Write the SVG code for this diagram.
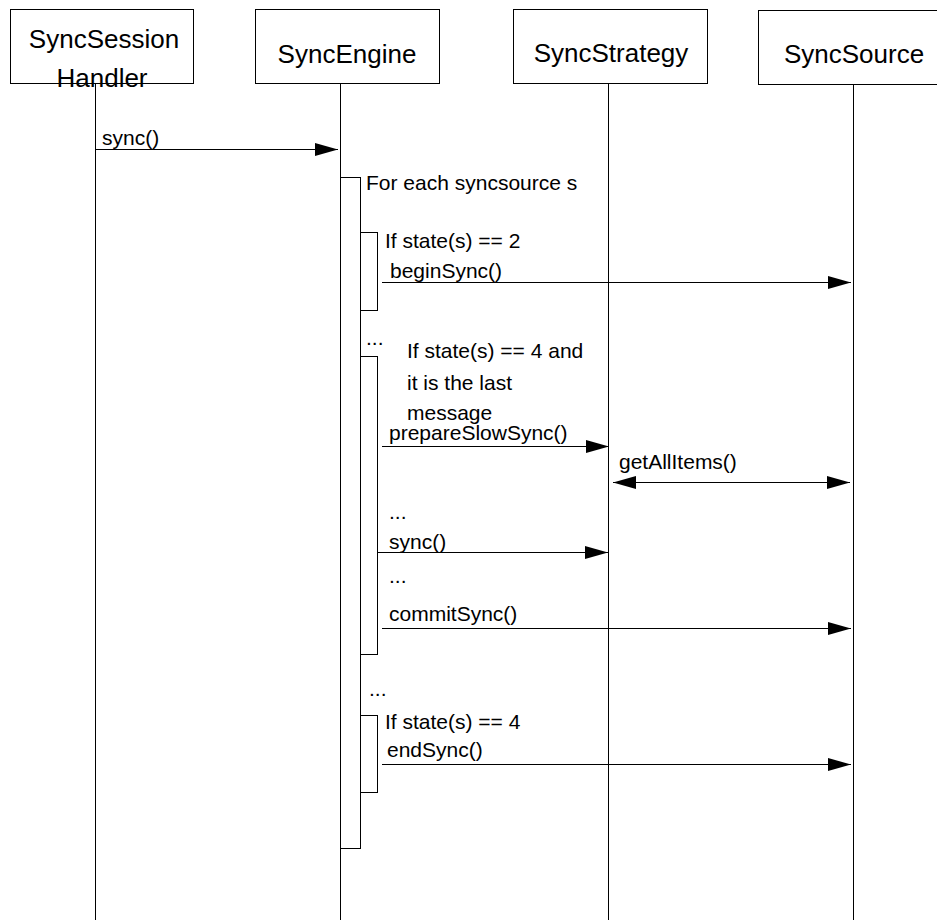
<svg xmlns="http://www.w3.org/2000/svg" width="937" height="920" viewBox="0 0 937 920">
<style>
.box{fill:#fff;stroke:#000;stroke-width:1}
.life{stroke:#000;stroke-width:1}
.act{fill:#fff;stroke:#000;stroke-width:1}
.msg{stroke:#000;stroke-width:1;fill:none}
.t{font-family:"Liberation Sans",Arial,sans-serif;font-size:26px;fill:#000}
.l{font-family:"Liberation Sans",Arial,sans-serif;font-size:21px;fill:#000}
</style>
<defs>
<marker id="ah" viewBox="0 0 23 13" refX="23" refY="6.5" markerWidth="23" markerHeight="13" markerUnits="userSpaceOnUse" orient="auto">
<path d="M0,0 L23,6.5 L0,13 Z" fill="#000"/>
</marker>
<marker id="ahs" viewBox="0 0 23 13" refX="0" refY="6.5" markerWidth="23" markerHeight="13" markerUnits="userSpaceOnUse" orient="auto">
<path d="M23,0 L0,6.5 L23,13 Z" fill="#000"/>
</marker>
</defs>
<rect width="937" height="920" fill="#fff"/>
<g id="lifelines">
<line class="life" x1="95.5" y1="83" x2="95.5" y2="920"/>
<line class="life" x1="340.5" y1="83" x2="340.5" y2="920"/>
<line class="life" x1="608.5" y1="83" x2="608.5" y2="920"/>
<line class="life" x1="853.5" y1="85" x2="853.5" y2="920"/>
</g>
<g id="SyncSessionHandler">
<rect class="box" x="10.5" y="9.5" width="183" height="74"/>
<text class="t" x="104" y="48" text-anchor="middle">SyncSession</text>
<text class="t" x="102" y="87" text-anchor="middle">Handler</text>
</g>
<g id="SyncEngine">
<rect class="box" x="255.5" y="9.5" width="184" height="74"/>
<text class="t" x="347" y="63" text-anchor="middle">SyncEngine</text>
</g>
<g id="SyncStrategy">
<rect class="box" x="513.5" y="9.5" width="194" height="74"/>
<text class="t" x="611" y="62" text-anchor="middle">SyncStrategy</text>
</g>
<g id="SyncSource">
<rect class="box" x="758.5" y="10.5" width="200" height="74"/>
<text class="t" x="854" y="63" text-anchor="middle">SyncSource</text>
</g>
<g id="activations">
<rect class="act" x="340.5" y="177.5" width="20" height="671"/>
<rect class="act" x="360.5" y="232.5" width="17" height="78"/>
<rect class="act" x="360.5" y="356.5" width="17" height="298"/>
<rect class="act" x="360.5" y="715.5" width="17" height="77"/>
</g>
<g id="notes">
<text class="l" x="366" y="190">For each syncsource s</text>
<text class="l" x="385" y="248">If state(s) == 2</text>
<text class="l" x="366" y="345">...</text>
<text class="l" x="407" y="358">If state(s) == 4 and</text>
<text class="l" x="407" y="390">it is the last</text>
<text class="l" x="407" y="420">message</text>
<text class="l" x="389" y="519">...</text>
<text class="l" x="389" y="583">...</text>
<text class="l" x="369" y="696">...</text>
<text class="l" x="385" y="729">If state(s) == 4</text>
</g>
<g id="connectors">
<line class="msg" x1="96" y1="149.5" x2="338" y2="149.5" marker-end="url(#ah)"/>
<text class="l" x="102" y="145">sync()</text>
<line class="msg" x1="382" y1="282.5" x2="851" y2="282.5" marker-end="url(#ah)"/>
<text class="l" x="390" y="278">beginSync()</text>
<line class="msg" x1="382" y1="446.5" x2="609" y2="446.5" marker-end="url(#ah)"/>
<text class="l" x="389" y="440">prepareSlowSync()</text>
<line class="msg" x1="613" y1="482.5" x2="850" y2="482.5" marker-start="url(#ahs)" marker-end="url(#ah)"/>
<text class="l" x="619" y="469">getAllItems()</text>
<line class="msg" x1="378" y1="552.5" x2="608" y2="552.5" marker-end="url(#ah)"/>
<text class="l" x="389" y="549">sync()</text>
<line class="msg" x1="382" y1="628.5" x2="851" y2="628.5" marker-end="url(#ah)"/>
<text class="l" x="389" y="621">commitSync()</text>
<line class="msg" x1="382" y1="764.5" x2="851" y2="764.5" marker-end="url(#ah)"/>
<text class="l" x="387" y="757">endSync()</text>
</g>
</svg>
